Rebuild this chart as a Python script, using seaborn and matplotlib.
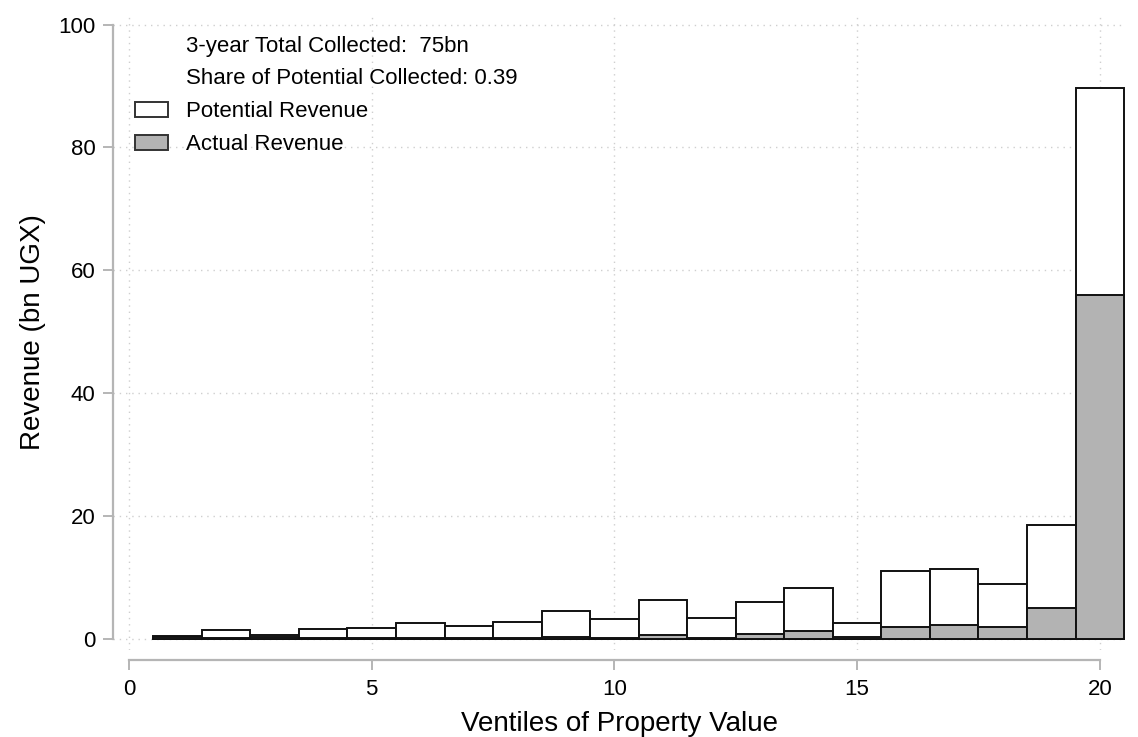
import matplotlib
matplotlib.use("Agg")
import matplotlib.pyplot as plt
from matplotlib.patches import Patch
import seaborn as sns
import pandas as pd

# ---- data ----
ventiles = list(range(1, 21))
potential = [0.5, 1.4, 0.6, 1.6, 1.8, 2.6, 2.1, 2.8, 4.5, 3.3,
             6.3, 3.4, 6.0, 8.3, 2.6, 11.1, 11.4, 9.0, 18.6, 89.7]
actual = [0.35, 0.1, 0.35, 0.1, 0.1, 0.1, 0.1, 0.1, 0.3, 0.2,
          0.7, 0.2, 0.8, 1.3, 0.3, 2.0, 2.3, 2.0, 5.1, 56.0]
x_ticks = [0, 5, 10, 15, 20]
y_ticks = [0, 20, 40, 60, 80, 100]
note_lines = ["3-year Total Collected:  75bn", "Share of Potential Collected: 0.39"]
series_labels = ["Potential Revenue", "Actual Revenue"]

df = pd.DataFrame({"ventile": ventiles, "potential": potential, "actual": actual})

sns.set_style("white")
plt.rcParams["font.family"] = ["Liberation Sans", "DejaVu Sans"]
plt.rcParams["text.color"] = "black"
plt.rcParams["axes.labelcolor"] = "black"

fig = plt.figure(figsize=(11.38, 7.37), dpi=100)
ax = fig.add_axes([0.0993, 0.118, 0.8893, 0.862])

# spines first (set_position resets tick formatting)
for s in ["top", "right"]:
    ax.spines[s].set_visible(False)
for s in ["left", "bottom"]:
    ax.spines[s].set_color("#b5b5b5")
    ax.spines[s].set_linewidth(1.6)
ax.spines["bottom"].set_position(("outward", 7))

grid_kw = dict(color="#cfcfcf", linestyle=(0, (1, 3.5)), linewidth=1.0, zorder=0)
for yt in y_ticks:
    ax.axhline(yt, **grid_kw)
for xt in x_ticks:
    ax.axvline(xt, **grid_kw)

sns.histplot(data=df, x="ventile", weights="potential", discrete=True,
             color="white", edgecolor="#111111", linewidth=1.4, alpha=1,
             ax=ax, zorder=2)
sns.histplot(data=df, x="ventile", weights="actual", discrete=True,
             color="#b3b3b3", edgecolor="#111111", linewidth=1.4, alpha=1,
             ax=ax, zorder=3)

ax.set_xlim(-0.33, 20.52)
ax.set_ylim(-1.8, 101.6)
ax.spines["left"].set_bounds(0, 100)
ax.spines["bottom"].set_bounds(0, 20)
ax.set_xticks(x_ticks)
ax.set_yticks(y_ticks)
ax.set_xticklabels([str(t) for t in x_ticks])
ax.set_yticklabels([str(t) for t in y_ticks])
ax.tick_params(axis="both", which="major", bottom=True, left=True,
               direction="out", length=7.5, width=1.4, color="#b5b5b5",
               labelcolor="black", labelsize=16, pad=5)
ax.tick_params(axis="x", pad=6)

ax.set_xlabel("Ventiles of Property Value", fontsize=20, labelpad=8)
ax.set_ylabel("Revenue (bn UGX)", fontsize=20, labelpad=9)

handles = [Patch(facecolor="none", edgecolor="none"),
           Patch(facecolor="none", edgecolor="none"),
           Patch(facecolor="white", edgecolor="#333333", linewidth=1.4),
           Patch(facecolor="#b3b3b3", edgecolor="#333333", linewidth=1.4)]
leg = ax.legend(handles, note_lines + series_labels, loc="upper left",
                bbox_to_anchor=(0.022, 0.967), frameon=False, fontsize=16,
                handlelength=1.47, handleheight=0.67, handletextpad=0.8,
                labelspacing=0.53, borderpad=0, borderaxespad=0)

fig.savefig("out.png", dpi=100)
